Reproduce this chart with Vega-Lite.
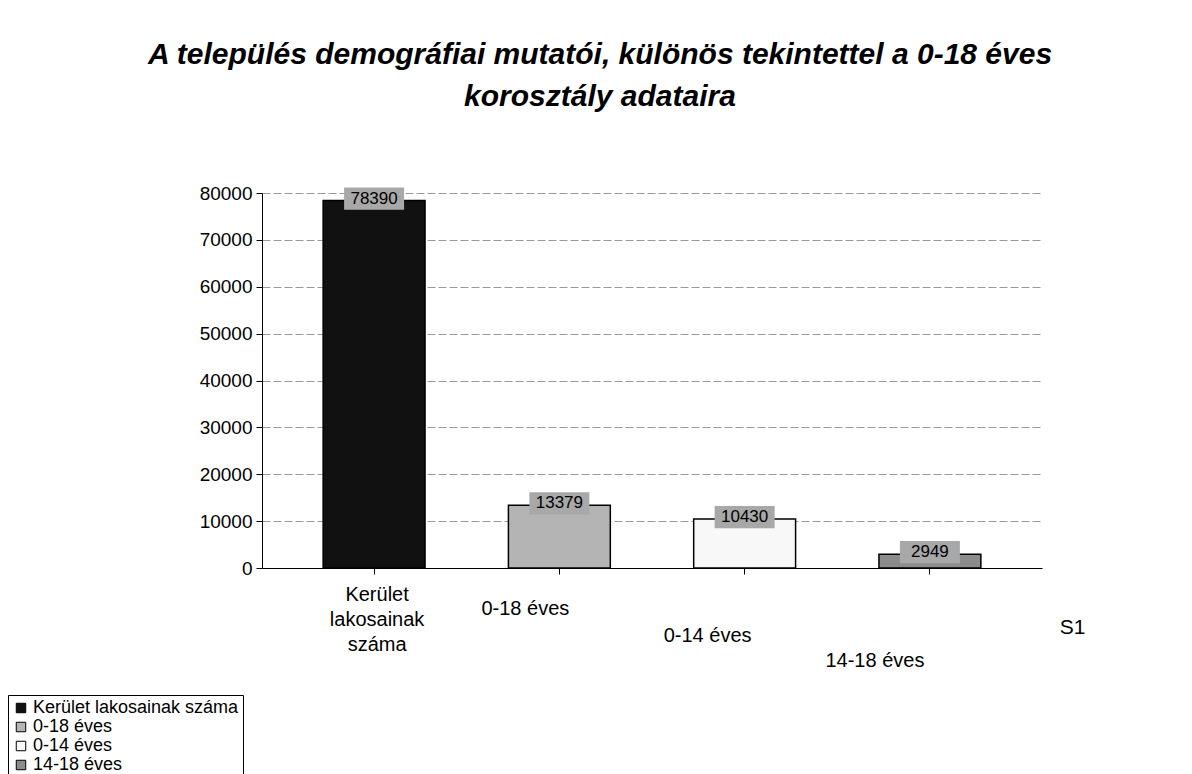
{
  "$schema": "https://vega.github.io/schema/vega-lite/v6.json",
  "autosize": "none",
  "width": 780,
  "height": 375,
  "padding": {"left": 262, "top": 193, "right": 150, "bottom": 206},
  "background": "white",
  "title": {
    "text": ["A település demográfiai mutatói, különös tekintettel a 0-18 éves", "korosztály adataira"],
    "font": "Liberation Sans",
    "fontSize": 30,
    "fontWeight": "bold",
    "fontStyle": "italic",
    "color": "black",
    "anchor": "middle",
    "frame": "group",
    "dx": -52,
    "offset": 72,
    "lineHeight": 42
  },
  "data": {
    "values": [
      {"kategoria": "Kerület lakosainak száma", "ertek": 78390},
      {"kategoria": "0-18 éves", "ertek": 13379},
      {"kategoria": "0-14 éves", "ertek": 10430},
      {"kategoria": "14-18 éves", "ertek": 2949}
    ]
  },
  "encoding": {
    "x": {
      "field": "kategoria",
      "type": "nominal",
      "sort": null,
      "scale": {"paddingInner": 0.45, "paddingOuter": 0.33},
      "axis": {
        "title": "S1",
        "titleFont": "Liberation Sans",
        "titleFontSize": 21,
        "titleFontWeight": "normal",
        "titleX": 810,
        "titleY": 48,
        "titleAlign": "center",
        "labelAngle": 0,
        "labelFont": "Liberation Sans",
        "labelFontSize": 20,
        "labelColor": "black",
        "labelPadding": {
          "condition": [
            {"test": "datum.value == '0-18 éves'", "value": 24},
            {"test": "datum.value == '0-14 éves'", "value": 51},
            {"test": "datum.value == '14-18 éves'", "value": 76}
          ],
          "value": 10
        },
        "labelOffset": {
          "condition": [
            {"test": "datum.value == '0-18 éves'", "value": -34},
            {"test": "datum.value == '0-14 éves'", "value": -37},
            {"test": "datum.value == '14-18 éves'", "value": -55}
          ],
          "value": 3
        },
        "labelLineHeight": 25,
        "labelExpr": "datum.value == 'Kerület lakosainak száma' ? ['Kerület', 'lakosainak', 'száma'] : datum.value",
        "domainColor": "black",
        "tickColor": "black",
        "tickSize": 6,
        "domain": true
      }
    },
    "y": {
      "field": "ertek",
      "type": "quantitative",
      "scale": {"domain": [0, 80000]},
      "axis": {
        "title": null,
        "values": [0, 10000, 20000, 30000, 40000, 50000, 60000, 70000, 80000],
        "format": "d",
        "labelFont": "Liberation Sans",
        "labelFontSize": 19,
        "labelColor": "black",
        "labelPadding": 4,
        "domainColor": "black",
        "tickColor": "black",
        "tickSize": 6,
        "gridColor": "#9a9a9a",
        "gridDash": [8, 3],
        "gridWidth": 1
      }
    }
  },
  "layer": [
    {
      "mark": {"type": "bar", "stroke": "black", "strokeWidth": 1.5},
      "encoding": {
        "color": {
          "field": "kategoria",
          "type": "nominal",
          "sort": null,
          "scale": {
            "domain": ["Kerület lakosainak száma", "0-18 éves", "0-14 éves", "14-18 éves"],
            "range": ["#111111", "#b4b4b4", "#f8f8f8", "#8c8c8c"]
          },
          "legend": {
            "orient": "none",
            "legendX": -254,
            "legendY": 502,
            "title": null,
            "symbolType": "square",
            "symbolSize": 90,
            "symbolStrokeColor": "black",
            "symbolStrokeWidth": 1,
            "labelFont": "Liberation Sans",
            "labelFontSize": 18,
            "labelColor": "black",
            "labelLimit": 320,
            "labelOffset": 3,
            "rowPadding": 1,
            "strokeColor": "black",
            "padding": 4,
            "fillColor": "white"
          }
        }
      }
    },
    {
      "mark": {"type": "point", "shape": "M-1,-0.37L1,-0.37L1,0.37L-1,0.37Z", "size": 3600, "filled": true, "color": "#a8a8a8", "opacity": 1, "yOffset": -2},
      "encoding": {}
    },
    {
      "mark": {"type": "text", "font": "Liberation Sans", "fontSize": 17, "color": "black", "baseline": "middle", "dy": -2},
      "encoding": {"text": {"field": "ertek", "type": "quantitative", "format": "d"}}
    }
  ],
  "config": {
    "view": {"stroke": null}
  }
}
